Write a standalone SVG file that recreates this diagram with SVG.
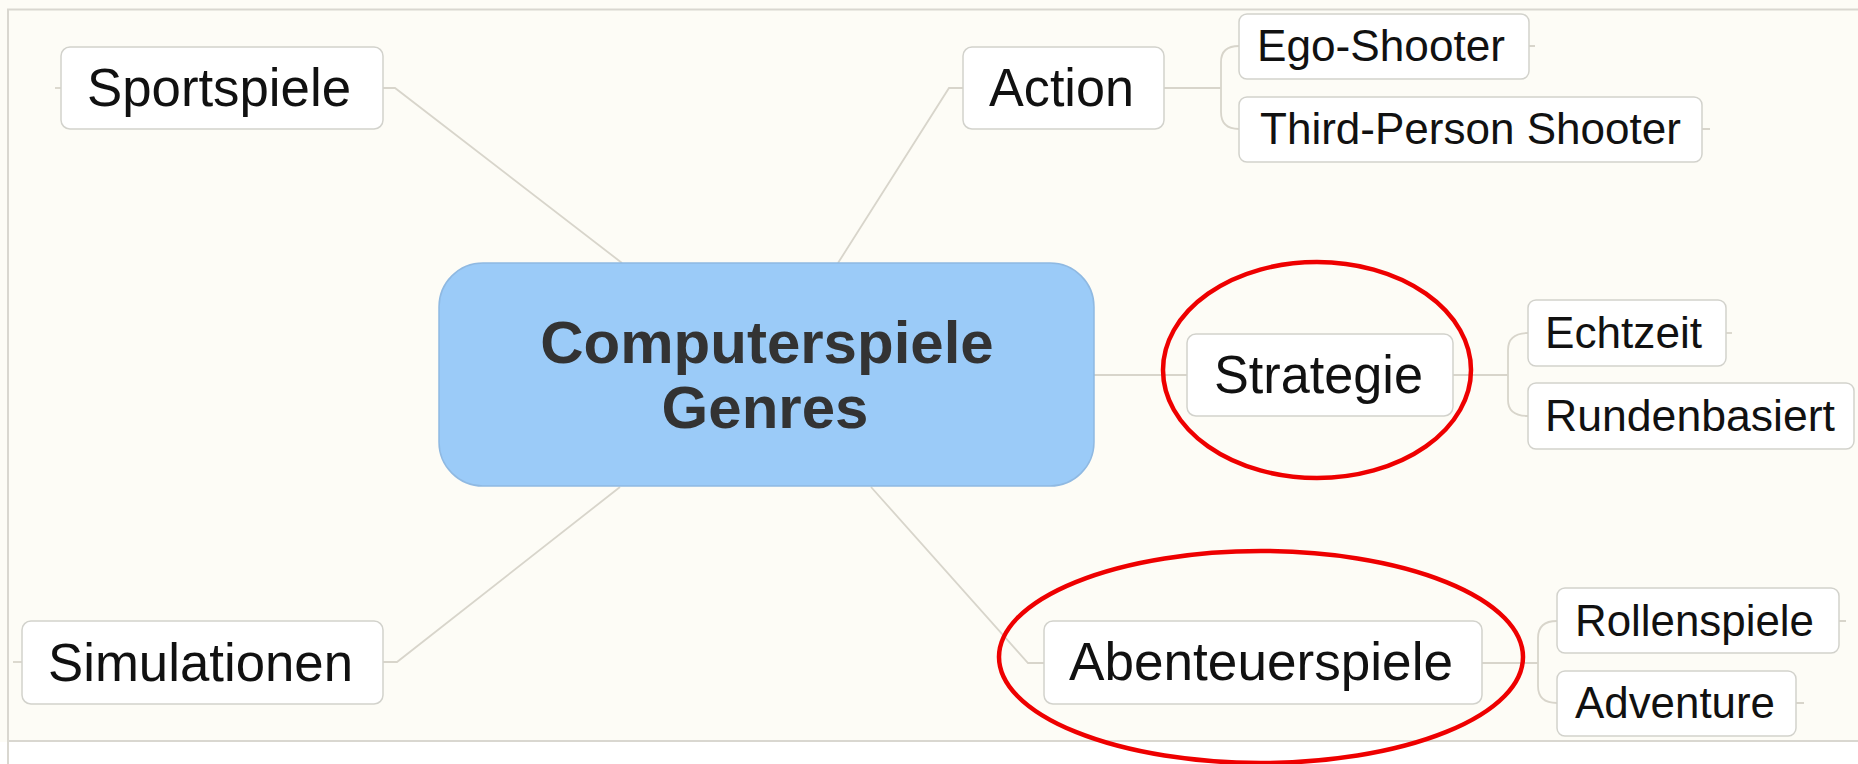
<svg xmlns="http://www.w3.org/2000/svg" width="1858" height="764" viewBox="0 0 1858 764">
  <defs>
    <style>
      .bg { fill: #fdfcf6; }
      .frame { fill: none; stroke: #d9d7d0; stroke-width: 2; }
      .link { fill: none; stroke: #d8d5cb; stroke-width: 1.8; }
      .box { fill: #ffffff; stroke: #d2d2cc; stroke-width: 1.5; }
      .root { fill: #9bcbf8; stroke: #8fb9e2; stroke-width: 1.5; }
      .lbl { font-family: "Liberation Sans", Arial, sans-serif; fill: #111111; }
      .main { font-size: 54px; }
      .sub { font-size: 44px; }
      .rootlbl { font-family: "Liberation Sans", Arial, sans-serif; font-weight: bold; font-size: 60px; fill: #333333; text-anchor: middle; }
      .mark { fill: none; stroke: #ee0000; stroke-width: 4.5; }
    </style>
  </defs>

  <!-- page background and frame -->
  <rect class="bg" x="0" y="0" width="1858" height="764"/>
  <rect x="0" y="742" width="1858" height="22" fill="#ffffff"/>
  <path class="frame" d="M8,764 V9.5 H1858 M8,741 H1858"/>

  <!-- connectors -->
  <g id="connectors">
    <path class="link" d="M55,88 H61"/>
    <path class="link" d="M383,88 H395 L622,263"/>
    <path class="link" d="M963,88 H949 L838,263"/>
    <path class="link" d="M13,662 H22"/>
    <path class="link" d="M383,662 H397 L620,487"/>
    <path class="link" d="M871,487 L1028,663 H1044"/>
    <path class="link" d="M1094,375 H1187"/>
    <!-- Action branches -->
    <path class="link" d="M1164,88 H1221 M1239,46 Q1221,46 1221,62 V112 Q1221,129 1239,129"/>
    <path class="link" d="M1529,46 H1535 M1702,129 H1710"/>
    <!-- Strategie branches -->
    <path class="link" d="M1453,375 H1508 M1528,333 Q1508,333 1508,350 V400 Q1508,416 1528,416"/>
    <path class="link" d="M1726,333 H1732"/>
    <!-- Abenteuerspiele branches -->
    <path class="link" d="M1482,663 H1538 M1557,621 Q1538,621 1538,638 V686 Q1538,703 1557,703"/>
    <path class="link" d="M1839,621 H1846 M1796,703 H1804"/>
  </g>

  <g id="root">
    <rect class="root" x="439" y="263" width="655" height="223" rx="44"/>
    <text class="rootlbl" x="767" y="363">Computerspiele</text>
    <text class="rootlbl" x="765" y="428">Genres</text>
  </g>

  <g id="sportspiele">
    <rect class="box" x="61" y="47" width="322" height="82" rx="9"/>
    <text class="lbl main" x="87" y="106" textLength="264" lengthAdjust="spacingAndGlyphs">Sportspiele</text>
  </g>

  <g id="action">
    <rect class="box" x="963" y="47" width="201" height="82" rx="9"/>
    <text class="lbl main" x="989" y="106" textLength="145" lengthAdjust="spacingAndGlyphs">Action</text>
  </g>

  <g id="ego-shooter">
    <rect class="box" x="1239" y="14" width="290" height="65" rx="8"/>
    <text class="lbl sub" x="1257" y="61" textLength="248" lengthAdjust="spacingAndGlyphs">Ego-Shooter</text>
  </g>

  <g id="third-person-shooter">
    <rect class="box" x="1239" y="97" width="463" height="65" rx="8"/>
    <text class="lbl sub" x="1260" y="144" textLength="421" lengthAdjust="spacingAndGlyphs">Third-Person Shooter</text>
  </g>

  <g id="strategie">
    <rect class="box" x="1187" y="334" width="266" height="82" rx="9"/>
    <text class="lbl main" x="1214" y="393" textLength="209" lengthAdjust="spacingAndGlyphs">Strategie</text>
  </g>

  <g id="echtzeit">
    <rect class="box" x="1528" y="300" width="198" height="66" rx="8"/>
    <text class="lbl sub" x="1545" y="348" textLength="157" lengthAdjust="spacingAndGlyphs">Echtzeit</text>
  </g>

  <g id="rundenbasiert">
    <rect class="box" x="1528" y="383" width="326" height="66" rx="8"/>
    <text class="lbl sub" x="1545" y="431" textLength="290" lengthAdjust="spacingAndGlyphs">Rundenbasiert</text>
  </g>

  <g id="simulationen">
    <rect class="box" x="22" y="621" width="361" height="83" rx="9"/>
    <text class="lbl main" x="48" y="681" textLength="305" lengthAdjust="spacingAndGlyphs">Simulationen</text>
  </g>

  <g id="abenteuerspiele">
    <rect class="box" x="1044" y="621" width="438" height="83" rx="9"/>
    <text class="lbl main" x="1069" y="680" textLength="384" lengthAdjust="spacingAndGlyphs">Abenteuerspiele</text>
  </g>

  <g id="rollenspiele">
    <rect class="box" x="1557" y="588" width="282" height="65" rx="8"/>
    <text class="lbl sub" x="1575" y="636" textLength="239" lengthAdjust="spacingAndGlyphs">Rollenspiele</text>
  </g>

  <g id="adventure">
    <rect class="box" x="1557" y="671" width="239" height="65" rx="8"/>
    <text class="lbl sub" x="1575" y="718" textLength="200" lengthAdjust="spacingAndGlyphs">Adventure</text>
  </g>

  <!-- red highlight rings -->
  <ellipse class="mark" cx="1317" cy="370" rx="154" ry="108"/>
  <ellipse class="mark" cx="1261" cy="657" rx="262" ry="106"/>
</svg>
